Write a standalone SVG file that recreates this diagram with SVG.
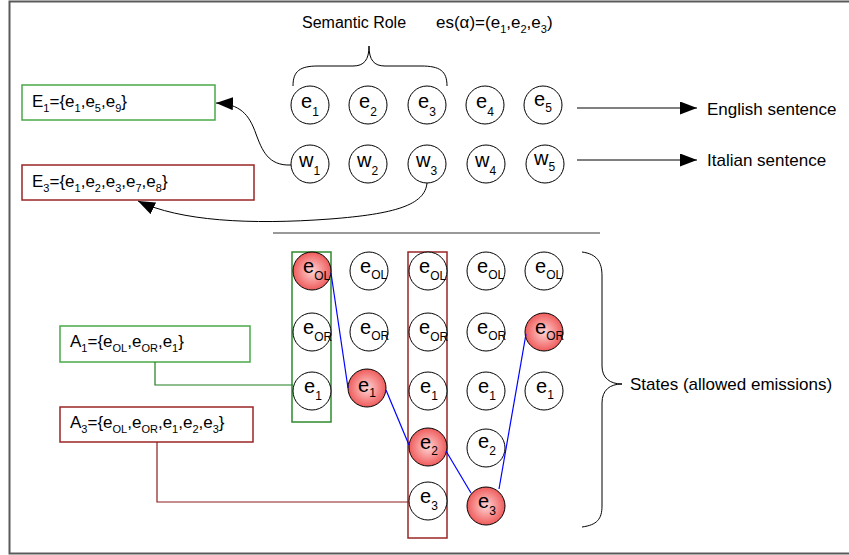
<svg xmlns="http://www.w3.org/2000/svg" width="849" height="555" viewBox="0 0 849 555">
  <style>
    text { font-family: "Liberation Sans", Arial, sans-serif; fill: #000; }
    .lbl { font-size: 17px; }
    .hd { font-size: 16px; }
    .sub { font-size: 11px; }
    .ne { font-size: 20px; }
    .ns { font-size: 12px; }
    .node { fill: #fff; stroke: #000; stroke-width: 1; }
    .hot { fill: url(#hotFill); stroke: #000; stroke-width: 1; }
    .wire { fill: none; stroke: #000; stroke-width: 1; }
    .path { fill: none; stroke: #0000ff; stroke-width: 1.2; }
    .gbox { fill: #fff; stroke: #4aa84a; stroke-width: 1.5; }
    .rbox { fill: #fff; stroke: #9b2424; stroke-width: 1.5; }
  </style>
  <defs>
    <radialGradient id="hotFill" cx="50%" cy="50%" r="55%">
      <stop offset="0" stop-color="#ffd4d4"/>
      <stop offset="1" stop-color="#ee5050"/>
    </radialGradient>
    <marker id="arrow" markerUnits="userSpaceOnUse" markerWidth="18" markerHeight="14" refX="17" refY="6.5" orient="auto">
      <path d="M0,0 L17,6.5 L0,13 Z" fill="#000"/>
    </marker>
  </defs>

  <rect x="9.5" y="1.5" width="860" height="552" fill="#fff" stroke="#5a5a5a" stroke-width="2"/>

  <!-- headings -->
  <text class="hd" x="302" y="28">Semantic Role</text>
  <text class="lbl" x="436" y="28">es(α)=(e<tspan class="sub" dy="5">1</tspan><tspan dy="-5">,e</tspan><tspan class="sub" dy="5">2</tspan><tspan dy="-5">,e</tspan><tspan class="sub" dy="5">3</tspan><tspan dy="-5">)</tspan></text>

  <!-- sentence rows -->
  <g id="e1"><circle class="node" cx="310" cy="105" r="19"/><text class="ne" x="301" y="108">e<tspan class="ns" dy="8">1</tspan></text></g>
  <g id="e2"><circle class="node" cx="368" cy="105" r="19"/><text class="ne" x="359" y="108">e<tspan class="ns" dy="8">2</tspan></text></g>
  <g id="e3"><circle class="node" cx="427" cy="105" r="19"/><text class="ne" x="418" y="108">e<tspan class="ns" dy="8">3</tspan></text></g>
  <g id="e4"><circle class="node" cx="485" cy="105" r="19"/><text class="ne" x="476" y="108">e<tspan class="ns" dy="8">4</tspan></text></g>
  <g id="e5"><circle class="node" cx="543" cy="105" r="19"/><text class="ne" x="534" y="106">e<tspan class="ns" dy="6">5</tspan></text></g>

  <g id="w1"><circle class="node" cx="310" cy="164" r="19"/><text class="ne" x="299" y="167">w<tspan class="ns" dy="8">1</tspan></text></g>
  <g id="w2"><circle class="node" cx="368" cy="164" r="19"/><text class="ne" x="357" y="167">w<tspan class="ns" dy="8">2</tspan></text></g>
  <g id="w3"><circle class="node" cx="427" cy="164" r="19"/><text class="ne" x="416" y="167">w<tspan class="ns" dy="8">3</tspan></text></g>
  <g id="w4"><circle class="node" cx="486" cy="164" r="19"/><text class="ne" x="475" y="167">w<tspan class="ns" dy="8">4</tspan></text></g>
  <g id="w5"><circle class="node" cx="545" cy="164" r="19"/><text class="ne" x="534" y="165">w<tspan class="ns" dy="6">5</tspan></text></g>

  <g id="english-label"><text class="lbl" x="707" y="115">English sentence</text></g>
  <g id="italian-label"><text class="lbl" x="707" y="166">Italian sentence</text></g>

  <!-- emission sets -->
  <g id="E1">
    <rect class="gbox" x="22" y="85" width="193" height="35"/>
    <text class="lbl" x="32" y="107">E<tspan class="sub" dy="5">1</tspan><tspan dy="-5">={e</tspan><tspan class="sub" dy="5">1</tspan><tspan dy="-5">,e</tspan><tspan class="sub" dy="5">5</tspan><tspan dy="-5">,e</tspan><tspan class="sub" dy="5">9</tspan><tspan dy="-5">}</tspan></text>
  </g>
  <g id="E3">
    <rect class="rbox" x="22" y="165" width="232" height="35"/>
    <text class="lbl" x="32" y="187">E<tspan class="sub" dy="5">3</tspan><tspan dy="-5">={e</tspan><tspan class="sub" dy="5">1</tspan><tspan dy="-5">,e</tspan><tspan class="sub" dy="5">2</tspan><tspan dy="-5">,e</tspan><tspan class="sub" dy="5">3</tspan><tspan dy="-5">,e</tspan><tspan class="sub" dy="5">7</tspan><tspan dy="-5">,e</tspan><tspan class="sub" dy="5">8</tspan><tspan dy="-5">}</tspan></text>
  </g>

  <!-- allowed-emission sets -->
  <g id="A1">
    <rect class="gbox" x="60" y="326" width="190" height="36"/>
    <text class="lbl" x="70" y="347">A<tspan class="sub" dy="5">1</tspan><tspan dy="-5">={e</tspan><tspan class="sub" dy="5">OL</tspan><tspan dy="-5">,e</tspan><tspan class="sub" dy="5">OR</tspan><tspan dy="-5">,e</tspan><tspan class="sub" dy="5">1</tspan><tspan dy="-5">}</tspan></text>
  </g>
  <g id="A3">
    <rect class="rbox" x="60" y="407" width="193" height="35"/>
    <text class="lbl" x="70" y="428">A<tspan class="sub" dy="5">3</tspan><tspan dy="-5">={e</tspan><tspan class="sub" dy="5">OL</tspan><tspan dy="-5">,e</tspan><tspan class="sub" dy="5">OR</tspan><tspan dy="-5">,e</tspan><tspan class="sub" dy="5">1</tspan><tspan dy="-5">,e</tspan><tspan class="sub" dy="5">2</tspan><tspan dy="-5">,e</tspan><tspan class="sub" dy="5">3</tspan><tspan dy="-5">}</tspan></text>
  </g>

  <!-- column highlights -->
  <rect id="col1-frame" x="292" y="252" width="39" height="170" fill="none" stroke="#2e8b2e" stroke-width="1.5"/>
  <rect id="col3-frame" x="408" y="252" width="39" height="286" fill="none" stroke="#9b2424" stroke-width="1.5"/>

  <!-- state lattice -->
  <g id="s1-OL"><circle class="hot" cx="312" cy="271" r="19"/><text class="ne" x="303" y="273">e<tspan class="ns" dy="7">OL</tspan></text></g>
  <g id="s1-OR"><circle class="node" cx="312" cy="332" r="19"/><text class="ne" x="303" y="334">e<tspan class="ns" dy="7">OR</tspan></text></g>
  <g id="s1-1"><circle class="node" cx="312" cy="391" r="19"/><text class="ne" x="304" y="393">e<tspan class="ns" dy="7">1</tspan></text></g>

  <g id="s2-OL"><circle class="node" cx="369" cy="271" r="19"/><text class="ne" x="360" y="273">e<tspan class="ns" dy="6">OL</tspan></text></g>
  <g id="s2-OR"><circle class="node" cx="369" cy="332" r="19"/><text class="ne" x="360" y="334">e<tspan class="ns" dy="6">OR</tspan></text></g>
  <g id="s2-1"><circle class="hot" cx="367" cy="388" r="19"/><text class="ne" x="358" y="392">e<tspan class="ns" dy="5">1</tspan></text></g>

  <g id="s3-OL"><circle class="node" cx="428" cy="271" r="19"/><text class="ne" x="419" y="273">e<tspan class="ns" dy="7">OL</tspan></text></g>
  <g id="s3-OR"><circle class="node" cx="428" cy="332" r="19"/><text class="ne" x="419" y="334">e<tspan class="ns" dy="7">OR</tspan></text></g>
  <g id="s3-1"><circle class="node" cx="428" cy="391" r="19"/><text class="ne" x="420" y="393">e<tspan class="ns" dy="7">1</tspan></text></g>
  <g id="s3-2"><circle class="hot" cx="428" cy="447" r="19"/><text class="ne" x="420" y="449">e<tspan class="ns" dy="6">2</tspan></text></g>
  <g id="s3-3"><circle class="node" cx="428" cy="501" r="19"/><text class="ne" x="420" y="503">e<tspan class="ns" dy="7">3</tspan></text></g>

  <g id="s4-OL"><circle class="node" cx="486" cy="271" r="19"/><text class="ne" x="477" y="273">e<tspan class="ns" dy="6">OL</tspan></text></g>
  <g id="s4-OR"><circle class="node" cx="486" cy="332" r="19"/><text class="ne" x="477" y="334">e<tspan class="ns" dy="6">OR</tspan></text></g>
  <g id="s4-1"><circle class="node" cx="486" cy="391" r="19"/><text class="ne" x="478" y="393">e<tspan class="ns" dy="7">1</tspan></text></g>
  <g id="s4-2"><circle class="node" cx="486" cy="448" r="19"/><text class="ne" x="478" y="448">e<tspan class="ns" dy="7">2</tspan></text></g>
  <g id="s4-3"><circle class="hot" cx="486" cy="506" r="19"/><text class="ne" x="478" y="508">e<tspan class="ns" dy="7">3</tspan></text></g>

  <g id="s5-OL"><circle class="node" cx="544" cy="271" r="19"/><text class="ne" x="535" y="273">e<tspan class="ns" dy="6">OL</tspan></text></g>
  <g id="s5-OR"><circle class="hot" cx="544" cy="332" r="19"/><text class="ne" x="535" y="334">e<tspan class="ns" dy="6">OR</tspan></text></g>
  <g id="s5-1"><circle class="node" cx="544" cy="391" r="19"/><text class="ne" x="536" y="393">e<tspan class="ns" dy="6">1</tspan></text></g>

  <g id="states-label"><text class="lbl" x="630" y="390">States (allowed emissions)</text></g>

  <!-- connectors -->
  <g id="connectors">
    <line x1="273" y1="233" x2="600" y2="233" stroke="#777" stroke-width="1.5"/>
    <path class="wire" d="M293,86 C293,71 300,66 318,66 L353,66 C364,66 369,60 369,46 C369,60 374,66 385,66 L421,66 C440,66 447,71 447,86"/>
    <path class="wire" d="M582,252 C597,254 602,262 602,276 L602,366 C602,378 610,384 622,384 C610,384 602,390 602,403 L602,506 C602,519 597,525 582,527"/>
    <line class="wire" x1="577" y1="108" x2="697" y2="108" marker-end="url(#arrow)"/>
    <line class="wire" x1="577" y1="160" x2="697" y2="160" marker-end="url(#arrow)"/>
    <path class="wire" d="M291,165 C268,166 262,150 256,134 C249,114 240,104 216,103" marker-end="url(#arrow)"/>
    <path class="wire" d="M427,183 C425,205 395,214 330,219 C250,225 180,221 138,201" marker-end="url(#arrow)"/>
    <polyline fill="none" stroke="#1f7f1f" stroke-width="1.2" points="155,362 155,385 293,385"/>
    <polyline fill="none" stroke="#8b1f1f" stroke-width="1.2" points="157,442 157,502 409,502"/>
    <line class="path" x1="331" y1="273" x2="348" y2="388"/>
    <line class="path" x1="386" y1="390" x2="409" y2="445"/>
    <line class="path" x1="446" y1="451" x2="471" y2="493"/>
    <line class="path" x1="499" y1="489" x2="526" y2="334"/>
  </g>
</svg>
